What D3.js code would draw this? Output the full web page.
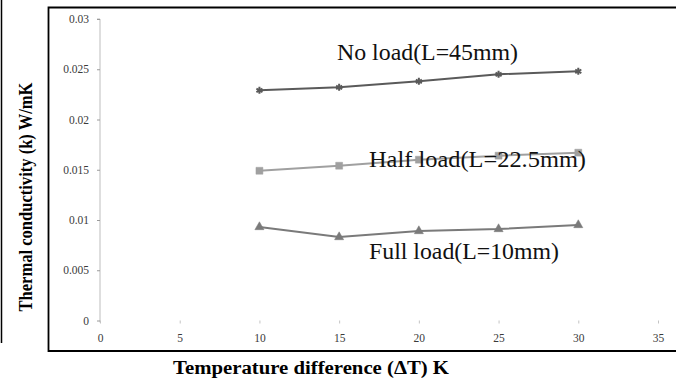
<!DOCTYPE html>
<html>
<head>
<meta charset="utf-8">
<script src="https://cdn.jsdelivr.net/npm/d3@7"></script>
<style>
  html, body { margin: 0; padding: 0; background: #fff; }
  svg { display: block; }
  svg text { font-family: "Liberation Serif", "Times New Roman", Times, serif; }
</style>
</head>
<body>
<svg id="chart" width="676" height="381"></svg>
<script>
// Temperature difference (K) at which conductivity was measured
const deltaT = [10, 15, 20, 25, 30];

// Thermal conductivity k (W/mK) for each loading condition
const noLoad   = [0.0229, 0.0232, 0.0238, 0.0245, 0.0248];
const halfLoad = [0.0149, 0.0154, 0.0160, 0.0164, 0.0167];
const fullLoad = [0.0093, 0.0083, 0.0089, 0.0091, 0.0095];

const seriesNames = ["No load(L=45mm)", "Half load(L=22.5mm)", "Full load(L=10mm)"];

// Axis ticks
const xTicks = [0, 5, 10, 15, 20, 25, 30, 35];
const yTicks = [0, 0.005, 0.01, 0.015, 0.02, 0.025, 0.03];
const yTickLabels = ["0", "0.005", "0.01", "0.015", "0.02", "0.025", "0.03"];

const svg = d3.select("#chart");

// Outer frame around the plot
svg.append("line").attr("x1", 1.5).attr("x2", 1.5).attr("y1", 0).attr("y2", 343)
  .attr("stroke", "#000").attr("stroke-width", 1.5);
svg.append("path")
  .attr("d", "M677,7.5 H48.5 V351 H677")
  .attr("fill", "none").attr("stroke", "#000").attr("stroke-width", 1.8);

const x = d3.scaleLinear().domain([0, 35]).range([100, 658]);
const y = d3.scaleLinear().domain([0, 0.03]).range([320.5, 19]);

// Y axis
const yAxis = svg.append("g").attr("transform", `translate(${x(0)},0)`)
  .call(d3.axisLeft(y).tickValues(yTicks).tickSize(3).tickPadding(8)
    .tickFormat((d, i) => yTickLabels[i]));
yAxis.attr("font-family", null).attr("font-size", null);
yAxis.select(".domain").attr("stroke", "#bdbdbd").attr("d", `M-3,${y(0.03)}H0V${y(0)+2}`);
yAxis.selectAll(".tick line").attr("stroke", "#9a9a9a");
yAxis.selectAll("text").style("font-size", "11.5px").attr("fill", "#3a3a3a");

// X axis: ticks only, no baseline
const xAxis = svg.append("g").attr("transform", `translate(0,${y(0)})`)
  .call(d3.axisBottom(x).tickValues(xTicks).tickSize(3).tickPadding(10));
xAxis.attr("font-family", null).attr("font-size", null);
xAxis.select(".domain").remove();
xAxis.selectAll(".tick line").attr("stroke", "#c4c4c4");
xAxis.selectAll("text").style("font-size", "11.5px").attr("fill", "#3a3a3a");

const line = d3.line().x((d, i) => x(deltaT[i])).y(d => y(d));

const series = [
  { name: seriesNames[0], values: noLoad,   color: "#5a5a5a", marker: "star" },
  { name: seriesNames[1], values: halfLoad, color: "#a0a0a0", marker: "square" },
  { name: seriesNames[2], values: fullLoad, color: "#7a7a7a", marker: "triangle" }
];

const symbolOf = {
  star: d3.symbol().type(d3.symbolAsterisk).size(34),
  square: d3.symbol().type(d3.symbolSquare).size(48),
  triangle: d3.symbol().type(d3.symbolTriangle).size(36)
};

series.forEach(s => {
  svg.append("path").datum(s.values)
    .attr("d", line).attr("fill", "none")
    .attr("stroke", s.color).attr("stroke-width", 2);
  svg.selectAll(null).data(s.values).enter().append("path")
    .attr("transform", (d, i) => `translate(${x(deltaT[i])},${y(d)})`)
    .attr("d", symbolOf[s.marker])
    .attr("fill", s.color)
    .attr("stroke", s.color)
    .attr("stroke-width", s.marker === "star" ? 2 : 0.5);
});

// Series labels placed beside their lines
const labels = [
  { text: seriesNames[0], x: 337, y: 60,  w: 181 },
  { text: seriesNames[1], x: 369, y: 167, w: 217 },
  { text: seriesNames[2], x: 369, y: 259, w: 190 }
];
svg.selectAll(null).data(labels).enter().append("text")
  .attr("x", d => d.x).attr("y", d => d.y)
  .attr("textLength", d => d.w).attr("lengthAdjust", "spacingAndGlyphs")
  .style("font-size", "23px").attr("fill", "#111")
  .text(d => d.text);

// Axis titles
svg.append("text")
  .attr("transform", "translate(32,197) rotate(-90)")
  .attr("text-anchor", "middle")
  .attr("textLength", 229).attr("lengthAdjust", "spacingAndGlyphs")
  .style("font-weight", "bold").style("font-size", "18px")
  .attr("fill", "#000")
  .text("Thermal conductivity (k) W/mK");

svg.append("text")
  .attr("x", 311).attr("y", 374)
  .attr("text-anchor", "middle")
  .attr("textLength", 276).attr("lengthAdjust", "spacingAndGlyphs")
  .style("font-weight", "bold").style("font-size", "18px")
  .attr("fill", "#000")
  .text("Temperature difference (ΔT) K");
</script>
</body>
</html>
